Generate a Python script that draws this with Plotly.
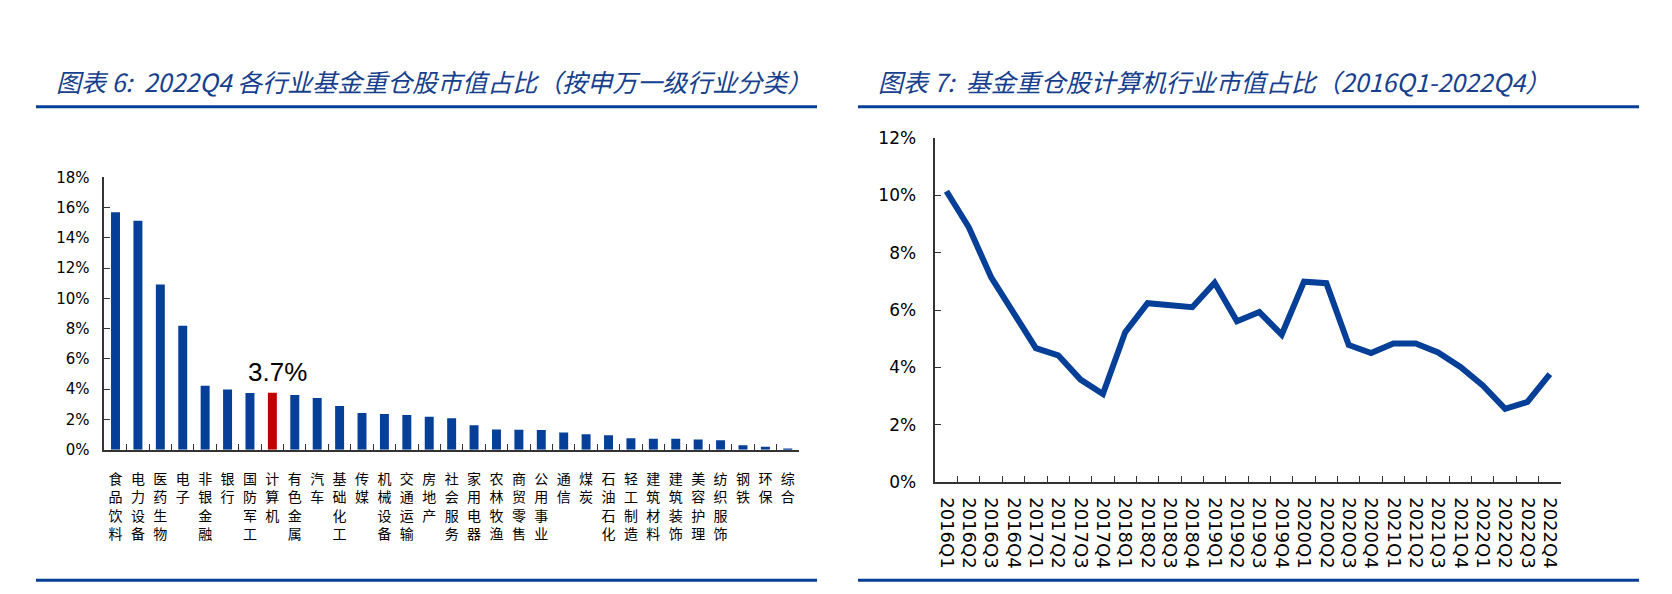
import plotly.graph_objects as go

# ---------------- data ----------------
industries = ["食品饮料", "电力设备", "医药生物", "电子", "非银金融", "银行", "国防军工", "计算机",
              "有色金属", "汽车", "基础化工", "传媒", "机械设备", "交通运输", "房地产", "社会服务",
              "家用电器", "农林牧渔", "商贸零售", "公用事业", "通信", "煤炭", "石油石化", "轻工制造",
              "建筑材料", "建筑装饰", "美容护理", "纺织服饰", "钢铁", "环保", "综合"]
industry_share = [15.70, 15.13, 10.93, 8.20, 4.22, 3.98, 3.75, 3.77,
                  3.62, 3.41, 2.88, 2.43, 2.36, 2.30, 2.17, 2.07,
                  1.62, 1.34, 1.32, 1.30, 1.13, 1.02, 0.96, 0.75,
                  0.72, 0.72, 0.68, 0.62, 0.30, 0.19, 0.02]
highlight_industry = "计算机"
highlight_label = "3.7%"

quarters = ["2016Q1", "2016Q2", "2016Q3", "2016Q4", "2017Q1", "2017Q2", "2017Q3", "2017Q4",
            "2018Q1", "2018Q2", "2018Q3", "2018Q4", "2019Q1", "2019Q2", "2019Q3", "2019Q4",
            "2020Q1", "2020Q2", "2020Q3", "2020Q4", "2021Q1", "2021Q2", "2021Q3", "2021Q4",
            "2022Q1", "2022Q2", "2022Q3", "2022Q4"]
computer_share = [10.15, 8.89, 7.14, 5.90, 4.67, 4.42, 3.57, 3.07,
                  5.23, 6.24, 6.19, 6.10, 6.95, 5.61, 5.93, 5.14,
                  6.99, 6.94, 4.78, 4.50, 4.83, 4.83, 4.52, 4.01,
                  3.37, 2.55, 2.79, 3.76]

bar_ticks = [0, 2, 4, 6, 8, 10, 12, 14, 16, 18]
line_ticks = [0, 2, 4, 6, 8, 10, 12]

title_left = "图表 6:\u00a0\u00a02022Q4 各行业基金重仓股市值占比（按申万一级行业分类）"
title_right = "图表 7:\u00a0\u00a0基金重仓股计算机行业市值占比（2016Q1-2022Q4）"

# ---------------- style ----------------
W, H = 1672, 594
BLUE = "#063f97"
RED = "#c00000"
TITLE_BLUE = "#16408e"
AXIS = "#333333"


def px(x):
    return x / W


def py(y):
    return 1 - y / H


bar_colors = [RED if c == highlight_industry else BLUE for c in industries]
bar_ticktext = ["<br>".join(list(c)) for c in industries]

fig = go.Figure()

fig.add_trace(go.Bar(
    x=industries, y=industry_share, marker=dict(color=bar_colors, line=dict(width=0)),
    width=0.4, xaxis="x", yaxis="y", showlegend=False, hoverinfo="x+y"))

fig.add_trace(go.Scatter(
    x=quarters, y=computer_share, mode="lines",
    line=dict(color=BLUE, width=6), xaxis="x2", yaxis="y2", showlegend=False))

fig.update_layout(
    width=W, height=H, margin=dict(l=0, r=0, t=0, b=0),
    paper_bgcolor="white", plot_bgcolor="white",
    font=dict(family="DejaVu Sans", color="black"),
    xaxis=dict(domain=[px(104.3), px(799)], anchor="y", type="category",
               range=[-0.5, len(industries) - 0.5],
               tickmode="array", tickvals=industries, ticktext=bar_ticktext,
               tickson="boundaries", ticks="inside", ticklen=6, tickcolor=AXIS,
               showline=True, linecolor=AXIS, linewidth=1.5, showgrid=False,
               tickangle=0, ticklabelstandoff=16,
               tickfont=dict(family="Noto Sans CJK SC", size=14, color="black")),
    yaxis=dict(domain=[py(455), py(173.3)], anchor="x", range=[0, 18],
               tickmode="array", tickvals=bar_ticks, ticktext=[f"{v}%" for v in bar_ticks],
               ticks="inside", ticklen=6, tickcolor=AXIS,
               showline=True, linecolor=AXIS, linewidth=1.5, showgrid=False, zeroline=False,
               ticklabelstandoff=10,
               tickfont=dict(family="DejaVu Sans", size=15, color="black")),
    xaxis2=dict(domain=[px(935.3), px(1561)], anchor="y2", type="category",
                range=[-0.5, len(quarters) - 0.5],
                tickmode="array", tickvals=quarters, ticktext=quarters,
                tickson="boundaries", ticks="inside", ticklen=6, tickcolor=AXIS,
                showline=True, linecolor=AXIS, linewidth=1.5, showgrid=False,
                tickangle=90, ticklabelstandoff=10,
                tickfont=dict(family="DejaVu Sans", size=18, color="black")),
    yaxis2=dict(domain=[py(488.3), py(132.7)], anchor="x2", range=[0, 12],
                tickmode="array", tickvals=line_ticks, ticktext=[f"{v}%" for v in line_ticks],
                ticks="inside", ticklen=6, tickcolor=AXIS,
                showline=True, linecolor=AXIS, linewidth=1.5, showgrid=False, zeroline=False,
                ticklabelstandoff=14,
                tickfont=dict(family="DejaVu Sans", size=17, color="black")),
)

# highlight label above the computer bar
hi = industries.index(highlight_industry)
fig.add_annotation(x=industries[hi], y=industry_share[hi], xref="x", yref="y",
                   text=highlight_label, showarrow=False, yanchor="bottom", yshift=4, xshift=5,
                   font=dict(family="Liberation Sans", size=26, color="black"))

# titles
fig.add_annotation(x=px(54), y=py(73), xref="paper", yref="paper", xanchor="left", yanchor="middle",
                   text=title_left, showarrow=False,
                   font=dict(family="Noto Sans CJK SC", size=25, color=TITLE_BLUE, style="italic"))
fig.add_annotation(x=px(876), y=py(73), xref="paper", yref="paper", xanchor="left", yanchor="middle",
                   text=title_right, showarrow=False,
                   font=dict(family="Noto Sans CJK SC", size=25, color=TITLE_BLUE, style="italic"))

# header / footer rules
for (x0, x1) in [(36, 817), (858, 1639)]:
    for yy in (100, 590):
        fig.add_shape(type="line", xref="paper", yref="paper",
                      x0=px(x0), x1=px(x1), y0=py(yy), y1=py(yy),
                      line=dict(color=BLUE, width=3))

fig.write_html("out.html")
